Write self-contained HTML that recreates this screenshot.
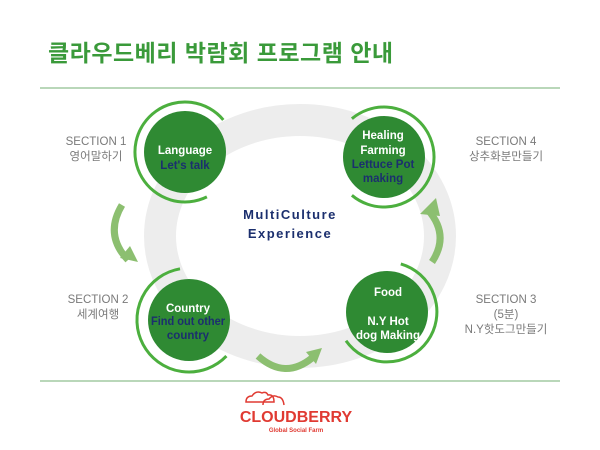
<!DOCTYPE html>
<html><head><meta charset="utf-8"><style>
body{margin:0;width:600px;height:450px;background:#fff;overflow:hidden;position:relative;font-family:"Liberation Sans","Noto Sans CJK KR",sans-serif}
.t{position:absolute;left:48px;top:34px;font-size:23px;font-weight:bold;color:#3a9a3a;letter-spacing:0.5px}
.lbl{position:absolute;text-align:center;color:#7a7a7a;font-size:11.5px;line-height:15px;width:120px}
</style></head><body>
<div class="t">클라우드베리 박람회 프로그램 안내</div>
<svg width="600" height="450" style="position:absolute;left:0;top:0">
<line x1="40" y1="88" x2="560" y2="88" stroke="#8fbf8f" stroke-width="1.2"/>
<line x1="40" y1="381" x2="560" y2="381" stroke="#8fbf8f" stroke-width="1.2"/>
<ellipse cx="300" cy="236" rx="140" ry="116" fill="none" stroke="#ededed" stroke-width="32"/>
<g fill="none">
<path d="M122 205 Q104 235 128 260" stroke="#8cbf70" stroke-width="7"/>
<path d="M432 262 Q450 235 428 210" stroke="#8cbf70" stroke-width="7"/>
<path d="M258 356 Q285 380 312 358" stroke="#8cbf70" stroke-width="7"/>
</g>
<g fill="#8cbf70">
<polygon points="120,258 138,262 130,246"/>
<polygon points="420,214 436,198 440,216"/>
<polygon points="306,352 322,348 316,364"/>
</g>
<g fill="none" stroke="#4caf3e" stroke-width="3">
<path d="M223.3 119.9 A50 50 0 1 0 206.9 196.9"/>
<path d="M351.9 118.7 A50 50 0 1 1 351.9 195.3"/>
<path d="M180 268.8 A52 52 0 1 0 226.4 356.1"/>
<path d="M400.8 263.9 A50 50 0 1 1 346 340.7"/>
</g>
<g fill="#2f8a33"><circle cx="185" cy="152" r="41"/><circle cx="384" cy="157" r="41"/><circle cx="189" cy="320" r="41"/><circle cx="387" cy="312" r="41"/></g>
<g font-weight="bold" font-size="11.5" text-anchor="middle" font-family="Liberation Sans,sans-serif">
<text x="185" y="154" fill="#fff">Language</text><text x="185" y="169" fill="#1b2f6e">Let's talk</text>
<text x="383" y="139" fill="#fff">Healing</text><text x="383" y="154" fill="#fff">Farming</text><text x="383" y="168" fill="#1b2f6e">Lettuce Pot</text><text x="383" y="182" fill="#1b2f6e">making</text>
<text x="188" y="312" fill="#fff">Country</text><text x="188" y="325" fill="#1b2f6e" textLength="74" lengthAdjust="spacingAndGlyphs">Find out other</text><text x="188" y="339" fill="#1b2f6e">country</text>
<text x="388" y="296" fill="#fff">Food</text><text x="388" y="325" fill="#fff">N.Y Hot</text><text x="388" y="339" fill="#fff" textLength="64" lengthAdjust="spacingAndGlyphs">dog Making</text>
<text x="290" y="219" fill="#1b2f6e" font-size="13" letter-spacing="1.5">MultiCulture</text>
<text x="290" y="238" fill="#1b2f6e" font-size="13" letter-spacing="1.5">Experience</text>
</g>
<g fill="none" stroke="#e03a32" stroke-width="1.5"><path d="M246 402 q0-6 6-6 q4-6 10-3 q4-2 6 2 q6-1 6 7 z"/><path d="M263 405 q0-6 6-6 q4-5 9-2 q5 0 6 8"/></g>
<text x="296" y="422" fill="#e03a32" font-size="16" font-weight="bold" text-anchor="middle" font-family="Liberation Sans,sans-serif">CLOUDBERRY</text>
<text x="296" y="432" fill="#e03a32" font-size="6" font-weight="bold" text-anchor="middle" font-family="Liberation Sans,sans-serif">Global Social Farm</text>
</svg>
<div class="lbl" style="left:36px;top:135px">SECTION 1<br>영어말하기</div>
<div class="lbl" style="left:446px;top:135px">SECTION 4<br>상추화분만들기</div>
<div class="lbl" style="left:38px;top:293px">SECTION 2<br>세계여행</div>
<div class="lbl" style="left:446px;top:293px">SECTION 3<br>(5분)<br>N.Y핫도그만들기</div>
</body></html>
